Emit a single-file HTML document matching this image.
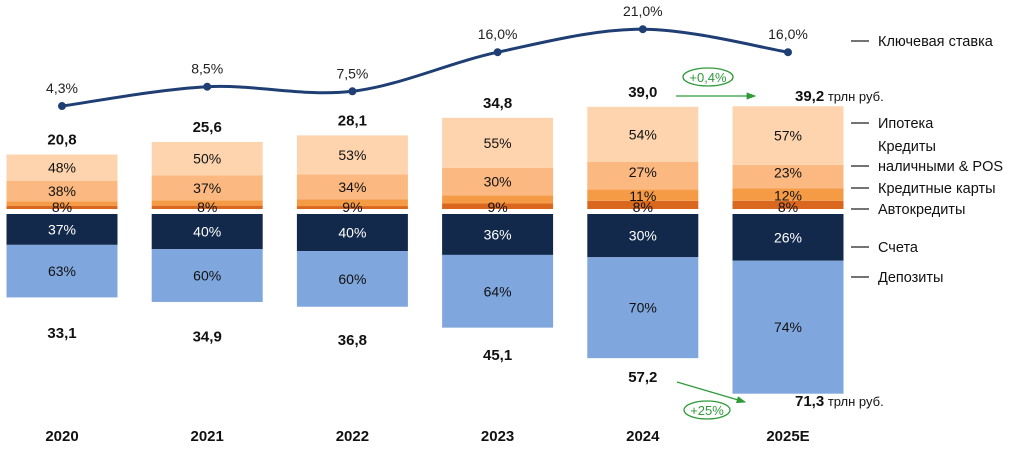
<!DOCTYPE html>
<html><head><meta charset="utf-8"><style>
body{margin:0;background:#fff;width:1024px;height:446px;overflow:hidden}
svg text{font-family:"Liberation Sans","DejaVu Sans",sans-serif}
</style></head><body>
<svg id="chart" width="1024" height="446" viewBox="0 0 1024 446" xmlns="http://www.w3.org/2000/svg"></svg>
<script>
const years=["2020","2021","2022","2023","2024","2025E"];
const loanTotals=[20.8,25.6,28.1,34.8,39.0,39.2];
const depTotals=[33.1,34.9,36.8,45.1,57.2,71.3];
const mortgage=[48,50,53,55,54,57];
const cashPos=[38,37,34,30,27,23];
const cards=[8,8,9,9,11,12];
const auto=[6,5,4,6,8,8];
const cardsLbl=["","","","","11%","12%"];
const autoLbl=["8%","8%","9%","9%","8%","8%"];
const accounts=[37,40,40,36,30,26];
const deposits=[63,60,60,64,70,74];
const keyRate=[4.3,8.5,7.5,16.0,21.0,16.0];
const rateLbl=["4,3%","8,5%","7,5%","16,0%","21,0%","16,0%"];
const loanLbl=["20,8","25,6","28,1","34,8","39,0","39,2"];
const depLbl=["33,1","34,9","36,8","45,1","57,2","71,3"];

const svg=document.getElementById('chart');
const NS='http://www.w3.org/2000/svg';
const cx=i=>62+i*145.2;
const BW=111;
const loanBase=209, depBase=214;
const yLoan=v=>loanBase-v*2.62;
const yDep=v=>depBase+v*2.52;
const yDepLbl=v=>338+(v-33.1)*1.83;
const yRate=r=>125.8-r*4.6;
function mk(tag,attrs,parent){const e=document.createElementNS(NS,tag);for(const k in attrs)e.setAttribute(k,attrs[k]);(parent||svg).appendChild(e);return e;}
function txt(x,y,s,o){const t=mk('text',Object.assign({x:x,y:y,'font-size':14,fill:'#111','text-anchor':'middle'},o||{}));t.textContent=s;return t;}

const cols={mortgage:'#FDD4AE',cash:'#FBB880',cards:'#F59A45',auto:'#D9681E',acc:'#13294B',dep:'#7FA6DD'};
years.forEach((yr,i)=>{
  const g=mk('g',{});
  
  
  const x0=cx(i)-BW/2;
  const H=loanTotals[i]*2.62;
  let cur=loanBase;
  const segs=[[auto[i],cols.auto,'auto'],[cards[i],cols.cards,'cards'],[cashPos[i],cols.cash,'cash-pos'],[mortgage[i],cols.mortgage,'mortgage']];
  const mids={};
  segs.forEach(s=>{const h=H*s[0]/100;const r=mk('rect',{x:x0,y:cur-h,width:BW,height:h,fill:s[1]},g);
    
    
    mids[s[2]]=cur-h/2;cur-=h;});
  txt(cx(i),mids.mortgage+5,mortgage[i]+'%');
  txt(cx(i),mids['cash-pos']+(i>=4?1:5),cashPos[i]+'%');
  if(cardsLbl[i])txt(cx(i),mids.cards+6,cardsLbl[i]);
  txt(cx(i),loanBase+3,autoLbl[i]);
  if(i<5)txt(cx(i),yLoan(loanTotals[i])-10,loanLbl[i],{'font-weight':'bold','font-size':15});
  const D=depTotals[i]*2.52;
  const ha=D*accounts[i]/100, hd=D*deposits[i]/100;
  const r1=mk('rect',{x:x0,y:depBase,width:BW,height:ha,fill:cols.acc},g);
  
  
  const r2=mk('rect',{x:x0,y:depBase+ha,width:BW,height:hd,fill:cols.dep},g);
  
  
  txt(cx(i),depBase+ha/2+5,accounts[i]+'%',{fill:'#fff'});
  txt(cx(i),depBase+ha+hd/2+5,deposits[i]+'%');
  if(i<5)txt(cx(i),yDepLbl(depTotals[i]),depLbl[i],{'font-weight':'bold','font-size':15});
  txt(cx(i),441,yr,{'font-weight':'bold','font-size':15});
});
// 2025 labels with units
let t=txt(795,406,'',{'text-anchor':'start','font-size':15});
t.innerHTML='<tspan font-weight="bold">'+depLbl[5]+'</tspan><tspan font-size="13"> трлн руб.</tspan>';


t=txt(795,101,'',{'text-anchor':'start','font-size':15});
t.innerHTML='<tspan font-weight="bold">'+loanLbl[5]+'</tspan><tspan font-size="13"> трлн руб.</tspan>';



// growth arrows
mk('defs',{}).innerHTML='<marker id="ah" markerWidth="8" markerHeight="6" refX="7" refY="3" orient="auto"><path d="M0,0L8,3L0,6z" fill="#2E9A3A"/></marker>';
mk('line',{x1:676,y1:96,x2:755,y2:96,stroke:'#2E9A3A','stroke-width':1.2,'marker-end':'url(#ah)'});
mk('line',{x1:677,y1:382,x2:745,y2:402,stroke:'#2E9A3A','stroke-width':1.2,'marker-end':'url(#ah)'});
mk('ellipse',{cx:708,cy:77,rx:25,ry:9,fill:'none',stroke:'#2E9A3A','stroke-width':1.3});
txt(708,82,'+0,4%',{fill:'#2E9A3A','font-size':13});
mk('ellipse',{cx:707,cy:410,rx:23,ry:9,fill:'none',stroke:'#2E9A3A','stroke-width':1.3});
txt(707,415,'+25%',{fill:'#2E9A3A','font-size':13});

// key rate line (Catmull-Rom smooth)
const pts=keyRate.map((r,i)=>[cx(i),yRate(r)]);
let d='M'+pts[0][0]+','+pts[0][1];
for(let i=0;i<pts.length-1;i++){const p0=pts[Math.max(0,i-1)],p1=pts[i],p2=pts[i+1],p3=pts[Math.min(pts.length-1,i+2)];
  d+=' C'+(p1[0]+(p2[0]-p0[0])/6)+','+(p1[1]+(p2[1]-p0[1])/6)+' '+(p2[0]-(p3[0]-p1[0])/6)+','+(p2[1]-(p3[1]-p1[1])/6)+' '+p2[0]+','+p2[1];}
const ln=mk('path',{d:d,fill:'none',stroke:'#1F3F74','stroke-width':3});


pts.forEach((p,i)=>{const c=mk('circle',{cx:p[0],cy:p[1],r:4,fill:'#1F3F74'});
  
  
  txt(p[0],p[1]-13,rateLbl[i],{'font-size':14,fill:'#222'});});

// legend
const leg=[['Ключевая ставка',46],['Ипотека',128],['наличными & POS',171],['Кредитные карты',193],['Автокредиты',214],['Счета',252],['Депозиты',282]];
leg.forEach(l=>{mk('line',{x1:851,y1:l[1]-5,x2:869,y2:l[1]-5,stroke:'#222','stroke-width':1.3});
  const e=txt(878,l[1],l[0],{'text-anchor':'start','font-size':14.5});
  
  });
txt(878,151,'Кредиты',{'text-anchor':'start','font-size':14.5});
</script>
</body></html>
